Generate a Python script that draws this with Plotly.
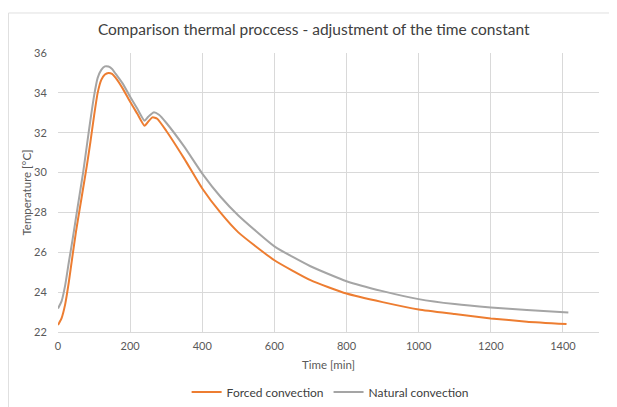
import plotly.graph_objects as go

time_forced = [0, 10, 20, 30, 40, 50, 60, 70, 80, 90, 100, 110, 120, 130, 140, 150, 160, 180, 200, 220,
               240, 250, 262, 275, 300, 350, 400, 450, 500, 600, 700, 800, 900, 1000, 1100, 1200, 1300, 1410]
temp_forced = [22.35, 22.7, 23.4, 24.5, 25.8, 27.05, 28.15, 29.25, 30.35, 31.55, 32.85, 34.0, 34.65, 34.92, 35.0,
               34.95, 34.75, 34.2, 33.55, 32.95, 32.35, 32.55, 32.77, 32.7, 32.1, 30.7, 29.2, 28.0, 27.0, 25.6,
               24.6, 23.93, 23.5, 23.13, 22.9, 22.68, 22.52, 22.4]

time_natural = [0, 10, 20, 30, 40, 50, 60, 70, 80, 90, 100, 110, 120, 130, 140, 150, 160, 180, 200, 220,
                240, 250, 265, 280, 300, 350, 400, 450, 500, 600, 700, 800, 900, 1000, 1100, 1200, 1300, 1415]
temp_natural = [23.18, 23.55, 24.35, 25.5, 26.6, 27.75, 28.9, 30.05, 31.35, 32.65, 33.85, 34.75, 35.15, 35.33, 35.32,
                35.2, 34.95, 34.45, 33.8, 33.2, 32.6, 32.8, 33.02, 32.9, 32.5, 31.3, 29.95, 28.8, 27.85, 26.3,
                25.3, 24.55, 24.05, 23.65, 23.4, 23.23, 23.1, 22.98]

x_ticks = [0, 200, 400, 600, 800, 1000, 1200, 1400]
y_ticks = [22, 24, 26, 28, 30, 32, 34, 36]

font_family = "Lato, 'Open Sans', sans-serif"
text_color = "#595959"

fig = go.Figure()
fig.add_trace(go.Scatter(x=time_forced, y=temp_forced, mode="lines", name="Forced convection",
                         line=dict(color="#ED7D31", width=2, shape="spline", smoothing=0.5)))
fig.add_trace(go.Scatter(x=time_natural, y=temp_natural, mode="lines", name="Natural convection",
                         line=dict(color="#A5A5A5", width=2, shape="spline", smoothing=0.5)))

fig.update_layout(
    width=609, height=399,
    margin=dict(l=50, r=18, t=45, b=75, autoexpand=False),
    paper_bgcolor="white", plot_bgcolor="white",
    font=dict(family=font_family, color=text_color, size=11),
    title=dict(text="Comparison thermal proccess - adjustment of the time constant",
               x=0.502, xref="container", xanchor="center", y=0.945, yref="container", yanchor="middle",
               font=dict(size=15.5, color="#404040", family=font_family), automargin=False),
    xaxis=dict(range=[0, 1500], tickvals=x_ticks, showgrid=True, gridcolor="#D9D9D9", gridwidth=1,
               zeroline=False, showline=True, linecolor="#D9D9D9", linewidth=1, automargin=False,
               title=dict(text="Time [min]", standoff=9, font=dict(size=11.5, color=text_color)),
               tickfont=dict(size=11, color=text_color), ticks="outside", ticklen=4, tickcolor="white"),
    yaxis=dict(range=[22, 36], tickvals=y_ticks, showgrid=True, gridcolor="#D9D9D9", gridwidth=1,
               zeroline=False, showline=False, automargin=False,
               title=dict(text="Temperature [°C]", standoff=0, font=dict(size=11.5, color=text_color)),
               tickfont=dict(size=11, color=text_color), ticks="outside", ticklen=8, tickcolor="white"),
    legend=dict(orientation="h", x=0.503, xanchor="center", y=-0.215, yanchor="middle",
                font=dict(size=12, color="#404040"), bgcolor="rgba(0,0,0,0)", itemwidth=30),
    showlegend=True,
)

fig.add_shape(type="rect", xref="paper", yref="paper", x0=-0.0915, x1=1.2, y0=-0.5, y1=1.1434,
              line=dict(color="#E0E0E0", width=1), fillcolor="rgba(0,0,0,0)", layer="below")

fig.write_html("out.html")
